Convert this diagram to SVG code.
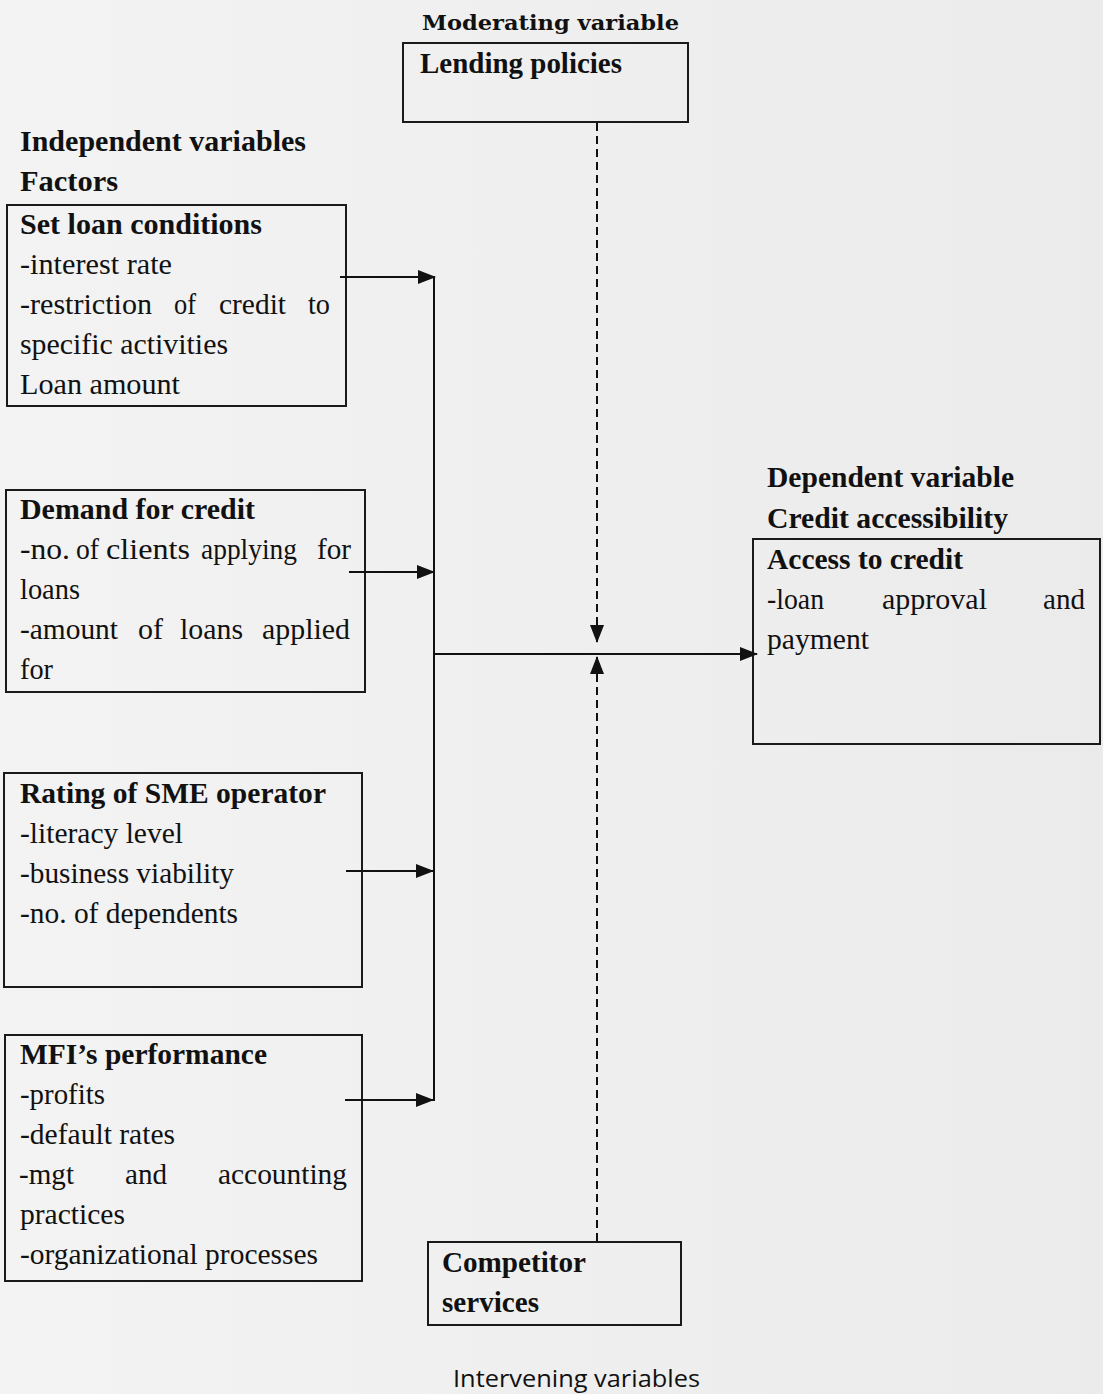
<svg xmlns="http://www.w3.org/2000/svg" width="1103" height="1394" viewBox="0 0 1103 1394">
<style>
.t{font-family:"Liberation Serif","Times New Roman",serif;font-size:30px;fill:#111}
.b{font-weight:bold}
.m{font-family:"DejaVu Serif",serif;font-size:21px;font-weight:bold;fill:#111}
.s{font-family:"Open Sans","Noto Sans",sans-serif;font-size:24px;fill:#111}
.box{fill:none;stroke:#1a1a1a;stroke-width:2}
.ln{fill:none;stroke:#111;stroke-width:2}
.dash{fill:none;stroke:#111;stroke-width:2;stroke-dasharray:8 5}
</style>
<defs>
<linearGradient id="bg" x1="0" y1="0" x2="1" y2="0">
<stop offset="0" stop-color="#f3f3f3"/>
<stop offset="1" stop-color="#ebebeb"/>
</linearGradient>
<marker id="ah" markerWidth="18" markerHeight="14" refX="17" refY="7" orient="auto" markerUnits="userSpaceOnUse">
<path d="M0,0 L18,7 L0,14 Z" fill="#111"/>
</marker>
</defs>
<rect width="1103" height="1394" fill="url(#bg)"/>

<g id="labels">
<text class="m" x="422" y="30" textLength="257" lengthAdjust="spacingAndGlyphs">Moderating variable</text>
<text class="t b" x="20" y="151" textLength="286" lengthAdjust="spacingAndGlyphs">Independent variables</text>
<text class="t b" x="20" y="191" textLength="98" lengthAdjust="spacingAndGlyphs">Factors</text>
<text class="t b" x="767" y="487" textLength="247" lengthAdjust="spacingAndGlyphs">Dependent variable</text>
<text class="t b" x="767" y="528" textLength="241" lengthAdjust="spacingAndGlyphs">Credit accessibility</text>
<text class="s" x="453" y="1387" textLength="247" lengthAdjust="spacingAndGlyphs">Intervening variables</text>
</g>

<g id="lending-policies">
<rect class="box" x="403" y="43" width="285" height="79"/>
<text class="t b" x="420" y="73" textLength="202" lengthAdjust="spacingAndGlyphs">Lending policies</text>
</g>

<g id="set-loan-conditions">
<rect class="box" x="7" y="205" width="339" height="201"/>
<text class="t b" x="20" y="234" textLength="242" lengthAdjust="spacingAndGlyphs">Set loan conditions</text>
<text class="t" x="20" y="274" textLength="152" lengthAdjust="spacingAndGlyphs">-interest rate</text>
<text class="t" y="314"><tspan x="20" textLength="132" lengthAdjust="spacingAndGlyphs">-restriction</tspan><tspan x="174" textLength="22" lengthAdjust="spacingAndGlyphs">of</tspan><tspan x="219" textLength="67" lengthAdjust="spacingAndGlyphs">credit</tspan><tspan x="308" textLength="22" lengthAdjust="spacingAndGlyphs">to</tspan></text>
<text class="t" x="20" y="354" textLength="208" lengthAdjust="spacingAndGlyphs">specific activities</text>
<text class="t" x="20" y="394" textLength="160" lengthAdjust="spacingAndGlyphs">Loan amount</text>
</g>

<g id="demand-for-credit">
<rect class="box" x="6" y="490" width="359" height="202"/>
<text class="t b" x="20" y="519" textLength="235" lengthAdjust="spacingAndGlyphs">Demand for credit</text>
<text class="t" y="559"><tspan x="20" textLength="50" lengthAdjust="spacingAndGlyphs">-no.</tspan><tspan x="76" textLength="23" lengthAdjust="spacingAndGlyphs">of</tspan><tspan x="106" textLength="84" lengthAdjust="spacingAndGlyphs">clients</tspan><tspan x="201" textLength="96" lengthAdjust="spacingAndGlyphs">applying</tspan><tspan x="317" textLength="34" lengthAdjust="spacingAndGlyphs">for</tspan></text>
<text class="t" x="20" y="599" textLength="60" lengthAdjust="spacingAndGlyphs">loans</text>
<text class="t" y="639"><tspan x="20" textLength="98" lengthAdjust="spacingAndGlyphs">-amount</tspan><tspan x="138" textLength="25" lengthAdjust="spacingAndGlyphs">of</tspan><tspan x="180" textLength="63" lengthAdjust="spacingAndGlyphs">loans</tspan><tspan x="262" textLength="88" lengthAdjust="spacingAndGlyphs">applied</tspan></text>
<text class="t" x="20" y="679" textLength="33" lengthAdjust="spacingAndGlyphs">for</text>
</g>

<g id="access-to-credit">
<rect class="box" x="753" y="539" width="347" height="205"/>
<text class="t b" x="767" y="569" textLength="196" lengthAdjust="spacingAndGlyphs">Access to credit</text>
<text class="t" y="609"><tspan x="767" textLength="57" lengthAdjust="spacingAndGlyphs">-loan</tspan><tspan x="882" textLength="105" lengthAdjust="spacingAndGlyphs">approval</tspan><tspan x="1043" textLength="42" lengthAdjust="spacingAndGlyphs">and</tspan></text>
<text class="t" x="767" y="649" textLength="102" lengthAdjust="spacingAndGlyphs">payment</text>
</g>

<g id="rating-sme-operator">
<rect class="box" x="4" y="773" width="358" height="214"/>
<text class="t b" x="20" y="803" textLength="306" lengthAdjust="spacingAndGlyphs">Rating of SME operator</text>
<text class="t" x="20" y="843" textLength="163" lengthAdjust="spacingAndGlyphs">-literacy level</text>
<text class="t" x="20" y="883" textLength="214" lengthAdjust="spacingAndGlyphs">-business viability</text>
<text class="t" x="20" y="923" textLength="218" lengthAdjust="spacingAndGlyphs">-no. of dependents</text>
</g>

<g id="mfi-performance">
<rect class="box" x="5" y="1035" width="357" height="246"/>
<text class="t b" x="20" y="1064" textLength="247" lengthAdjust="spacingAndGlyphs">MFI’s performance</text>
<text class="t" x="20" y="1104" textLength="85" lengthAdjust="spacingAndGlyphs">-profits</text>
<text class="t" x="20" y="1144" textLength="155" lengthAdjust="spacingAndGlyphs">-default rates</text>
<text class="t" y="1184"><tspan x="19" textLength="55" lengthAdjust="spacingAndGlyphs">-mgt</tspan><tspan x="125" textLength="42" lengthAdjust="spacingAndGlyphs">and</tspan><tspan x="218" textLength="129" lengthAdjust="spacingAndGlyphs">accounting</tspan></text>
<text class="t" x="20" y="1224" textLength="105" lengthAdjust="spacingAndGlyphs">practices</text>
<text class="t" x="20" y="1264" textLength="298" lengthAdjust="spacingAndGlyphs">-organizational processes</text>
</g>

<g id="competitor-services">
<rect class="box" x="428" y="1242" width="253" height="83"/>
<text class="t b" x="442" y="1272" textLength="144" lengthAdjust="spacingAndGlyphs">Competitor</text>
<text class="t b" x="442" y="1312" textLength="97" lengthAdjust="spacingAndGlyphs">services</text>
</g>

<g id="connectors">
<line class="ln" x1="340" y1="277" x2="435" y2="277" marker-end="url(#ah)"/>
<line class="ln" x1="349" y1="572" x2="434" y2="572" marker-end="url(#ah)"/>
<line class="ln" x1="346" y1="871" x2="433" y2="871" marker-end="url(#ah)"/>
<line class="ln" x1="345" y1="1100" x2="433" y2="1100" marker-end="url(#ah)"/>
<line class="ln" x1="434" y1="276" x2="434" y2="1101"/>
<line class="ln" x1="434" y1="654" x2="757" y2="654" marker-end="url(#ah)"/>
<line class="dash" x1="597" y1="123" x2="597" y2="626"/>
<line class="ln" x1="597" y1="622" x2="597" y2="642" marker-end="url(#ah)"/>
<line class="dash" x1="597" y1="1241" x2="597" y2="674"/>
<line class="ln" x1="597" y1="677" x2="597" y2="657" marker-end="url(#ah)"/>
</g>
</svg>
